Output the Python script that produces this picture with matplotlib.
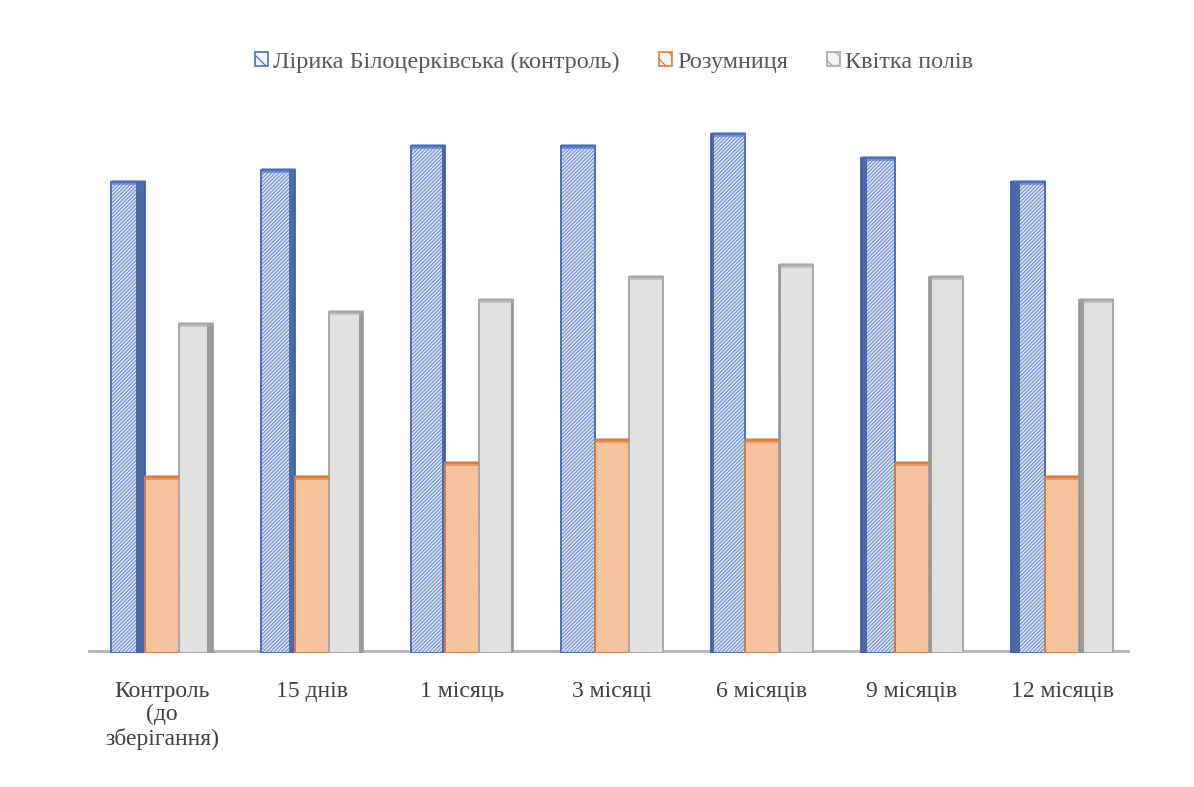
import numpy as np
import matplotlib
matplotlib.use('Agg')
import matplotlib.pyplot as plt
from matplotlib.patches import Patch

categories = ['Контроль\n(до\nзберігання)', '15 днів', '1 місяць', '3 місяці',
              '6 місяців', '9 місяців', '12 місяців']
series_names = ['Лірика Білоцерківська (контроль)', 'Розумниця', 'Квітка полів']
liryka = [39.0, 40.0, 42.0, 42.0, 43.0, 41.0, 39.0]
rozumnytsia = [14.6, 14.6, 15.7, 17.6, 17.6, 15.7, 14.6]
kvitka = [27.2, 28.2, 29.2, 31.1, 32.1, 31.1, 29.2]

plt.rcParams['font.family'] = ['Liberation Serif', 'DejaVu Serif']
plt.rcParams['hatch.linewidth'] = 0.9

styles = [
    # face, hatch colour, edge, side face (None = no visible side)
    ('#dfe8f8', '#7896d4', '#4a6fc0', '#3d5a9e'),
    ('#fbe3cf', '#f2b282', '#e07b39', None),
    ('#eeeeee', '#dadada', '#a8a8a8', '#8a948c'),
]
hatches = ['/' * 9, '/' * 12, '/' * 12]
side_scale = [1.0, 0.0, 0.6]

fig = plt.figure(figsize=(11.94, 7.87), dpi=100)
# baseline at y=653 px, left 88 px, right 1130 px
ax = fig.add_axes([88 / 1194, 1 - 653 / 787, (1130 - 88) / 1194, 553 / 787])

x = np.arange(len(categories))
w = 0.225
offsets = [-w, 0.0, w]
data = [liryka, rozumnytsia, kvitka]

# 3d side faces: right side on the left half, left side on the right half
side_sign = np.sign(3 - x)

for vals, off, (face, hcol, edge, side), h, sc in zip(data, offsets, styles, hatches, side_scale):
    ax.bar(x + off, vals, width=w, color=face, edgecolor=hcol, hatch=h,
           linewidth=0, zorder=2)
    ax.bar(x + off, vals, width=w, color='none', edgecolor=edge,
           linewidth=1.4, zorder=3)
    if side is not None:
        side_w = np.abs(x - 3) / 3 * 0.06 * sc
        sx = x + off + side_sign * (w / 2 - side_w / 2)
        ax.bar(sx, vals, width=side_w, color=side, linewidth=0, alpha=0.85, zorder=3)
    # darker top cap, like the 3d top face
    ax.hlines(vals, x + off - w / 2, x + off + w / 2, colors=edge,
              linewidth=3.5, alpha=0.6, zorder=4)

ax.axhline(0, color='#b8b8b8', linewidth=5, zorder=1)

ax.set_xlim(-(162 - 88) / 150, (1130 - 162) / 150)
ax.set_ylim(0, 553 / 12.08)
ax.set_xticks(x)
ax.set_xticklabels(categories, fontsize=17, color='#404040', linespacing=1.15)
ax.tick_params(axis='x', length=0, pad=20)
ax.set_yticks([])
for s in ax.spines.values():
    s.set_visible(False)

handles = [Patch(facecolor='#f4f4f4', edgecolor=edge, hatch='\\\\', linewidth=1.2)
           for face, hcol, edge, side in styles]
leg = fig.legend(handles, series_names, loc='center', bbox_to_anchor=(614 / 1194, 1 - 62 / 787),
                 ncol=3, frameon=False, fontsize=17.5, handlelength=0.55, handleheight=0.55,
                 handletextpad=0.2, columnspacing=1.6)
for t in leg.get_texts():
    t.set_color('#595959')

fig.savefig('out.png', dpi=100, facecolor='white')
